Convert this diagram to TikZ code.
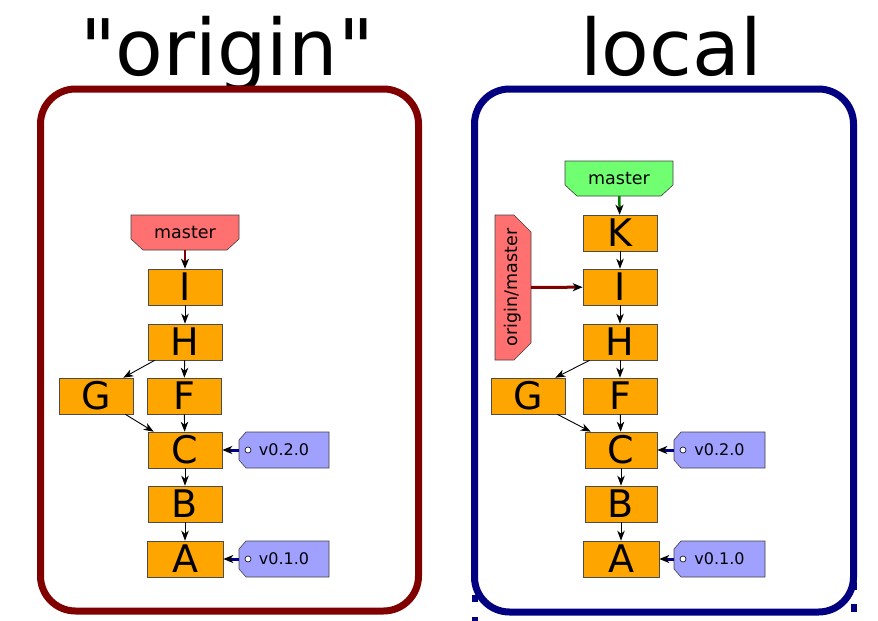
\documentclass[tikz,border=0pt]{standalone}
\usepackage{fontspec}
\setmainfont{DejaVu Sans}
\newfontfamily\plainfont[Ligatures=TeXOff]{DejaVu Sans}
\usetikzlibrary{arrows.meta,calc}
\definecolor{origc}{HTML}{800000}
\definecolor{locc}{HTML}{000080}
\definecolor{commitc}{HTML}{FFA500}
\definecolor{redlab}{HTML}{FF7070}
\definecolor{greenlab}{HTML}{70FF70}
\definecolor{greenline}{HTML}{008000}
\definecolor{taglab}{HTML}{A0A0FF}
\tikzset{
  commit/.style={draw=black!70, line width=0.6pt, fill=commitc, minimum width=74pt, minimum height=36pt,
    inner sep=0pt, text height=27.7pt, text depth=0pt, font=\fontsize{38}{38}\selectfont},
  lab/.style={inner sep=0pt, font=\fontsize{17.5}{18}\selectfont},
  tagtext/.style={inner sep=0pt, minimum width=90pt, minimum height=36pt, font=\fontsize{16}{16}\selectfont},
  shapeline/.style={draw=black!75, line width=0.6pt},
  carrow/.style={line width=0.9pt, -{Stealth[length=10pt,width=7.5pt,inset=3pt]}},
  larrow/.style={-{Stealth[length=10pt,width=8pt,inset=3pt,color=black]}},
  title/.style={font=\plainfont\fontsize{78}{78}\selectfont, anchor=base, inner sep=0pt},
}
\begin{document}
\begin{tikzpicture}[x=1pt,y=-1pt]
\useasboundingbox (0,0) rectangle (878,621);

% titles
\node[title] (t1) at (227,75) {"origin"};
\node[title] (t2) at (671,75) {local};

% frames
\draw[locc, line width=6pt, dash pattern=on 7pt off 15pt] (474.5,133) -- (474.5,630);
\draw[locc, line width=6pt, dash pattern=on 8pt off 14pt] (853.5,142) -- (853.5,630);
\draw[origc, line width=7pt, rounded corners=35pt] (40.5,89) rectangle (418.5,611);
\draw[locc, line width=7pt, rounded corners=35pt] (474.5,89) rectangle (853.5,612);

% ---------- origin ----------
\node[commit] (oI) at (185,287) {I};
\node[commit] (oH) at (185,342) {H};
\node[commit] (oF) at (184,396) {F};
\node[commit] (oG) at (96,396) {G};
\node[commit] (oC) at (185,450) {C};
\node[commit] (oB) at (185,504) {B};
\node[commit, minimum width=76pt] (oA) at (185,559) {A};

\draw[carrow] (oI) -- (oH);
\draw[carrow] (oH) -- (oF);
\draw[carrow] ($(oH.south west)+(7,0)$) -- ($(oG.north east)+(-10,0)$);
\draw[carrow] (oF) -- (oC);
\draw[carrow] ($(oG.south east)+(-8,0)$) -- ($(oC.north west)+(6,0)$);
\draw[carrow] (oC) -- (oB);
\draw[carrow] (oB) -- (oA);

% master label (origin)
\filldraw[fill=redlab, shapeline] (131,215) -- (239,215) -- (239,239) -- (227,250) -- (143,250) -- (131,239) -- cycle;
\node[lab, minimum width=108pt, minimum height=35pt] (oM) at (185,232.5) {master};
\draw[origc, line width=2.5pt, larrow] (oM) -- (oI);

% tags (origin)
\filldraw[fill=taglab, shapeline] (246,432) -- (329,432) -- (329,468) -- (246,468) -- (239,460) -- (239,440) -- cycle;
\draw[black, line width=0.6pt, fill=white] (248,450) circle (3pt);
\node[tagtext] (oT2) at (284,450) {v0.2.0};
\draw[locc, line width=3pt, larrow] (oT2) -- (oC);

\filldraw[fill=taglab, shapeline] (246,541) -- (329,541) -- (329,577) -- (246,577) -- (239,569) -- (239,549) -- cycle;
\draw[black, line width=0.6pt, fill=white] (248,559) circle (3pt);
\node[tagtext] (oT1) at (284,559) {v0.1.0};
\draw[locc, line width=3pt, larrow] (oT1) -- (oA);

% ---------- local ----------
\node[commit] (lK) at (620,233) {K};
\node[commit] (lI) at (620,287) {I};
\node[commit] (lH) at (620,342) {H};
\node[commit] (lF) at (620,396) {F};
\node[commit] (lG) at (528,396) {G};
\node[commit, minimum width=72pt] (lC) at (621,450) {C};
\node[commit, minimum width=72pt] (lB) at (621,504) {B};
\node[commit, minimum width=76pt] (lA) at (621,559) {A};

\draw[carrow] (lK) -- (lI);
\draw[carrow] (lI) -- (lH);
\draw[carrow] (lH) -- (lF);
\draw[carrow] ($(lH.south west)+(7,0)$) -- ($(lG.north east)+(-10,0)$);
\draw[carrow] (lF) -- (lC);
\draw[carrow] ($(lG.south east)+(-8,0)$) -- ($(lC.north west)+(6,0)$);
\draw[carrow] (lC) -- (lB);
\draw[carrow] (lB) -- (lA);

% master label (local)
\filldraw[fill=greenlab, shapeline] (565,161) -- (673,161) -- (673,185) -- (661,196) -- (577,196) -- (565,185) -- cycle;
\node[lab, minimum width=108pt, minimum height=35pt] (lM) at (619,178.5) {master};
\draw[greenline, line width=2.5pt, larrow] (lM) -- (lK);

% origin/master label
\filldraw[fill=redlab, shapeline] (495,215) -- (514,215) -- (531,232) -- (531,343) -- (514,360) -- (495,360) -- cycle;
\node[lab, minimum width=36pt, minimum height=145pt] (lOM) at (513,287.5) {\rotatebox{90}{origin/master}};
\draw[origc, line width=3pt, larrow] (lOM) -- (lI);

% tags (local)
\filldraw[fill=taglab, shapeline] (681,432) -- (765,432) -- (765,468) -- (681,468) -- (674,460) -- (674,440) -- cycle;
\draw[black, line width=0.6pt, fill=white] (683,450) circle (3pt);
\node[tagtext] (lT2) at (719.5,450) {v0.2.0};
\draw[locc, line width=3pt, larrow] (lT2) -- (lC);

\filldraw[fill=taglab, shapeline] (681,541) -- (765,541) -- (765,577) -- (681,577) -- (674,569) -- (674,549) -- cycle;
\draw[black, line width=0.6pt, fill=white] (683,559) circle (3pt);
\node[tagtext] (lT1) at (719.5,559) {v0.1.0};
\draw[locc, line width=3pt, larrow] (lT1) -- (lA);
\end{tikzpicture}
\end{document}
